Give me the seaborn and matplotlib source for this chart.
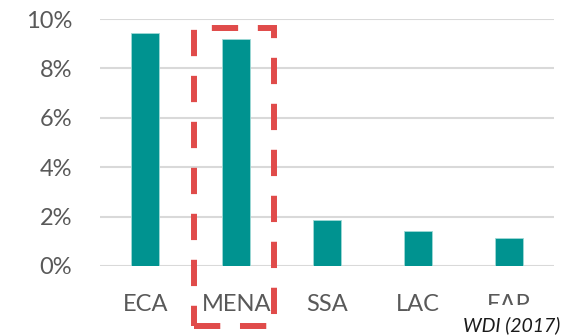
import matplotlib
matplotlib.use("Agg")
import matplotlib.pyplot as plt
import seaborn as sns
import pandas as pd
from matplotlib.patches import Rectangle
from matplotlib.ticker import PercentFormatter

regions = ["ECA", "MENA", "SSA", "LAC", "EAP"]
shares = [9.42, 9.18, 1.86, 1.42, 1.12]
y_ticks = [0, 2, 4, 6, 8, 10]
source_note = "WDI (2017)"

df = pd.DataFrame({"region": regions, "share": shares})

sns.set_theme(style="white")
plt.rcParams["font.family"] = ["Lato", "DejaVu Sans"]

W, H = 571, 335
fig = plt.figure(figsize=(W / 100, H / 100), dpi=100)
ax = fig.add_axes([100 / W, 1 - 266 / H, 454 / W, 247 / H])

sns.barplot(data=df, x="region", y="share", color="#009390", width=0.31,
            saturation=1, ax=ax, edgecolor="#9fd9d6", linewidth=0.6)

ax.set_ylim(0, 10)
ax.set_xlim(-0.5, 4.5)
ax.set_yticks(y_ticks)
ax.yaxis.set_major_formatter(PercentFormatter(decimals=0))
ax.grid(axis="y", color="#d9d9d9", linewidth=1.5)
ax.set_axisbelow(True)
for s in ax.spines.values():
    s.set_visible(False)
ax.set_xlabel("")
ax.set_ylabel("")
ax.tick_params(axis="y", labelsize=17, labelcolor="#595959", length=0, pad=20)
ax.tick_params(axis="x", labelsize=17, labelcolor="#595959", length=0, pad=20)

# Dashed highlight box around MENA
box = Rectangle((194 / W, 1 - 326 / H), 80 / W, 298 / H,
                transform=fig.transFigure, fill=False, edgecolor="#e04b4a",
                linewidth=4.3, linestyle=(0, (4.4, 3.3)), clip_on=False, zorder=5)
fig.add_artist(box)

# The last category label is cut off by the footer band
footer_clip = Rectangle((0, 1 - 305 / H), 1, 305 / H, transform=fig.transFigure,
                        visible=False)
fig.add_artist(footer_clip)
fig.canvas.draw()
last_label = ax.get_xticklabels()[-1]
last_label.set_clip_path(footer_clip)
last_label.set_clip_on(True)

fig.text(560 / W, 1 - 331 / H, source_note, ha="right", va="baseline",
         fontsize=14, style="italic", color="#1a1a1a", zorder=7)

fig.savefig("out.png", dpi=100)
